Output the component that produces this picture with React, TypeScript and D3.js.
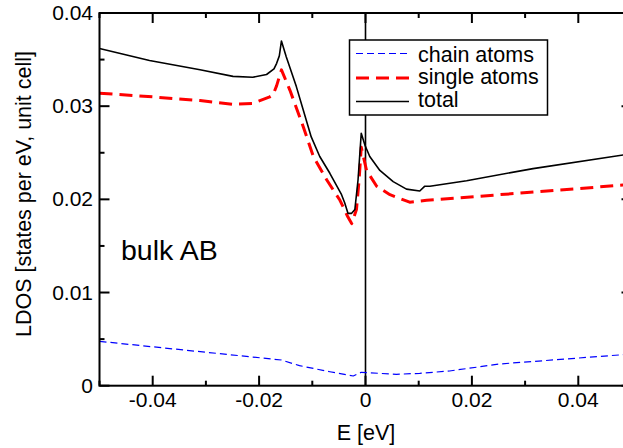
import React from "react";
import * as d3 from "d3";

const W = 623;
const H = 448;

const totalE = [-0.05, -0.0406, -0.0311, -0.0249, -0.0212, -0.0186, -0.0172, -0.0167, -0.0162, -0.0158, -0.0149, -0.013, -0.0117, -0.0102, -0.0086, -0.0067, -0.0045, -0.0039, -0.0033, -0.0026, -0.002, -0.0014, -0.0011, -0.0008, -0.0001, 0.0008, 0.0027, 0.0052, 0.0077, 0.0102, 0.0111, 0.0121, 0.019, 0.0315, 0.05];
const totalV = [0.0362, 0.0349, 0.0339, 0.0332, 0.0331, 0.0334, 0.034, 0.0346, 0.0354, 0.037, 0.0353, 0.0321, 0.0296, 0.0267, 0.0246, 0.0228, 0.0205, 0.0196, 0.0185, 0.0185, 0.0189, 0.0221, 0.0246, 0.0271, 0.0258, 0.0246, 0.0231, 0.0219, 0.0211, 0.0209, 0.0214, 0.0214, 0.022, 0.0233, 0.0249];

const singleE = [-0.05, -0.04, -0.0311, -0.0249, -0.0212, -0.018, -0.0174, -0.0167, -0.0158, -0.0142, -0.0117, -0.0098, -0.0073, -0.0048, -0.0033, -0.0026, -0.0017, -0.0012, -0.0008, 0.0002, 0.0021, 0.0046, 0.0083, 0.0115, 0.0252, 0.05];
const singleV = [0.0314, 0.031, 0.0306, 0.0302, 0.0303, 0.031, 0.0312, 0.0322, 0.0339, 0.0317, 0.0278, 0.0246, 0.0221, 0.0199, 0.0181, 0.0174, 0.0189, 0.0221, 0.0256, 0.0231, 0.0214, 0.0205, 0.0197, 0.0199, 0.0205, 0.0216];

const chainE = [-0.05, -0.0158, -0.0124, -0.0067, -0.0023, -0.0008, 0.0058, 0.0102, 0.0158, 0.0252, 0.05];
const chainV = [0.00476, 0.00276, 0.00215, 0.0015, 0.00104, 0.00144, 0.00122, 0.00133, 0.00158, 0.00233, 0.0034];

const xMajor = [-0.04, -0.02, 0, 0.02, 0.04];
const xMajorLabels = ["-0.04", "-0.02", "0", "0.02", "0.04"];
const xMinor = [-0.05, -0.03, -0.01, 0.01, 0.03, 0.05];
const yMajor = [0, 0.01, 0.02, 0.03, 0.04];
const yMajorLabels = ["0", "0.01", "0.02", "0.03", "0.04"];
const yMinor = [0.005, 0.015, 0.025, 0.035];

const legendLabels = ["chain atoms", "single atoms", "total"];

const FONT = "'Liberation Sans', Arial, Helvetica, sans-serif";

export default function App() {
  const L = 99.5, R = 631.5, T = 13, B = 385.7;
  const x = d3.scaleLinear().domain([-0.05, 0.05]).range([L, R]);
  const y = d3.scaleLinear().domain([0, 0.04]).range([B, T]);
  const line = d3.line<[number, number]>().x(d => x(d[0])).y(d => y(d[1]));
  const mk = (e: number[], v: number[]) => e.map((ei, i) => [ei, v[i]] as [number, number]);

  const series = [
    { pts: mk(chainE, chainV), color: "#0000ff", width: 1.2, dash: "7,4" },
    { pts: mk(singleE, singleV), color: "#ff0000", width: 3, dash: "13,7" },
    { pts: mk(totalE, totalV), color: "#000000", width: 1.6, dash: undefined as string | undefined },
  ];

  const lgX = 349.5, lgY = 40, lgW = 198, lgH = 75;
  const lgRows = [53.5, 78, 101.5];
  const lgText = [61.5, 84, 106.5];

  return (
    <svg width={W} height={H} style={{ position: "absolute", left: 0, top: 0, background: "#fff" }} fontFamily={FONT}>
      <defs>
        <clipPath id="plotclip">
          <rect x={L} y={T} width={R - L} height={B - T} />
        </clipPath>
      </defs>
      <rect x={0} y={0} width={W} height={H} fill="#fff" />
      <line x1={x(0)} x2={x(0)} y1={B} y2={T} stroke="#000" strokeWidth={1.6} />
      <g clipPath="url(#plotclip)">
        {series.map((s, i) => (
          <path key={i} d={line(s.pts) || ""} fill="none" stroke={s.color} strokeWidth={s.width} strokeDasharray={s.dash} strokeLinejoin="round" />
        ))}
      </g>
      <rect x={L} y={T} width={R - L} height={B - T} fill="none" stroke="#000" strokeWidth={2} />
      {xMajor.map((v, i) => (
        <g key={"xM" + i}>
          <line x1={x(v)} x2={x(v)} y1={B} y2={B - 10} stroke="#000" strokeWidth={2} />
          <line x1={x(v)} x2={x(v)} y1={T} y2={T + 10} stroke="#000" strokeWidth={2} />
          <text x={x(v)} y={407} fontSize={21} textAnchor="middle">{xMajorLabels[i]}</text>
        </g>
      ))}
      {xMinor.map((v, i) => (
        <g key={"xm" + i}>
          <line x1={x(v)} x2={x(v)} y1={B} y2={B - 5} stroke="#000" strokeWidth={2} />
          <line x1={x(v)} x2={x(v)} y1={T} y2={T + 5} stroke="#000" strokeWidth={2} />
        </g>
      ))}
      {yMajor.map((v, i) => (
        <g key={"yM" + i}>
          <line x1={L} x2={L + 10} y1={y(v)} y2={y(v)} stroke="#000" strokeWidth={2} />
          <line x1={R} x2={R - 10} y1={y(v)} y2={y(v)} stroke="#000" strokeWidth={2} />
          <text x={93} y={y(v) + 7} fontSize={21} textAnchor="end">{yMajorLabels[i]}</text>
        </g>
      ))}
      {yMinor.map((v, i) => (
        <g key={"ym" + i}>
          <line x1={L} x2={L + 5} y1={y(v)} y2={y(v)} stroke="#000" strokeWidth={2} />
          <line x1={R} x2={R - 5} y1={y(v)} y2={y(v)} stroke="#000" strokeWidth={2} />
        </g>
      ))}
      <text x={366} y={440} fontSize={21.5} textAnchor="middle">E [eV]</text>
      <text transform={`translate(31,${(50 + 338) / 2}) rotate(-90)`} fontSize={21.5} textAnchor="middle">LDOS [states per eV, unit cell]</text>
      <text x={121} y={260} fontSize={28.5}>bulk AB</text>
      <rect x={lgX} y={lgY} width={lgW} height={lgH} fill="#fff" stroke="#000" strokeWidth={1.5} />
      {series.map((s, i) => (
        <g key={"lg" + i}>
          <line x1={356} x2={409} y1={lgRows[i]} y2={lgRows[i]} stroke={s.color} strokeWidth={s.width} strokeDasharray={s.dash} />
          <text x={418} y={lgText[i]} fontSize={21.5}>{legendLabels[i]}</text>
        </g>
      ))}
    </svg>
  );
}
